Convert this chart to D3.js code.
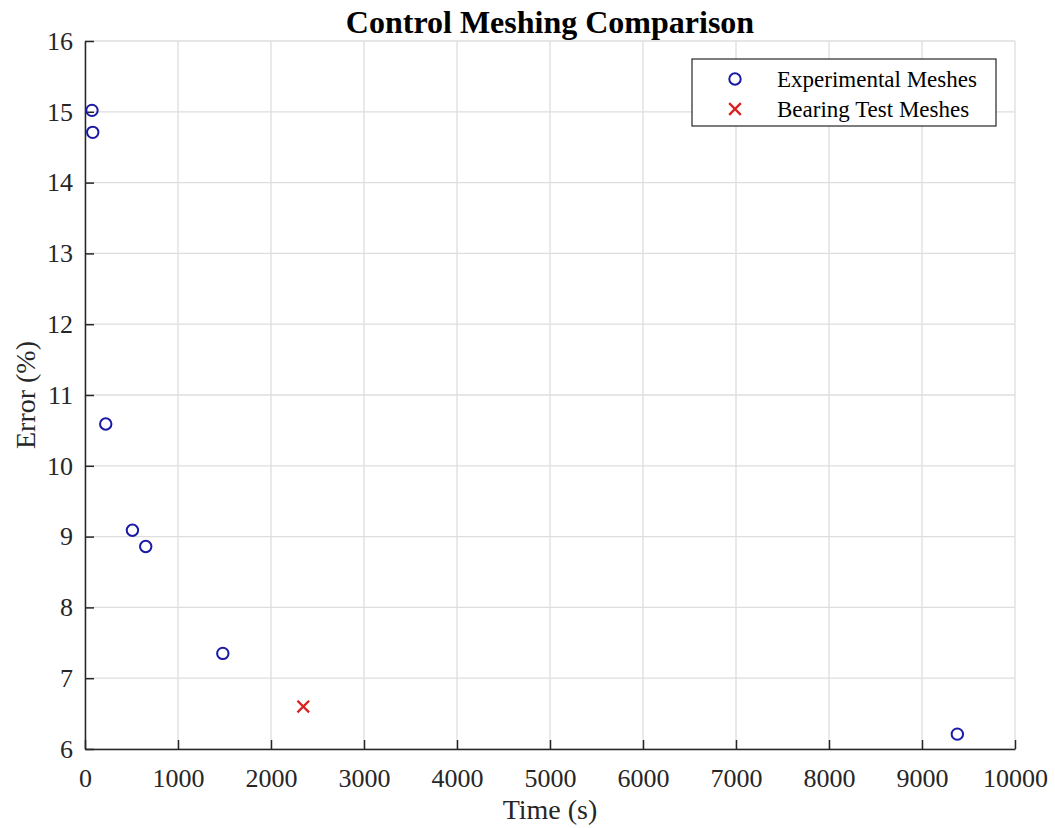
<!DOCTYPE html>
<html>
<head>
<meta charset="utf-8">
<script src="https://cdn.jsdelivr.net/npm/d3@7"></script>
<style>
  body { margin: 0; background: #fff; }
  svg text { font-family: "Liberation Serif", "Times New Roman", serif; fill: #262626; }
</style>
</head>
<body>
<div id="chart"></div>
<script>
// data
const expTime = [75, 83, 223, 510, 653, 1482, 9380];
const expError = [15.02, 14.71, 10.59, 9.09, 8.86, 7.35, 6.21];
const bearTime = [2347];
const bearError = [6.60];
const xTicks = [0, 1000, 2000, 3000, 4000, 5000, 6000, 7000, 8000, 9000, 10000];
const yTicks = [6, 7, 8, 9, 10, 11, 12, 13, 14, 15, 16];
const legendLabels = ["Experimental Meshes", "Bearing Test Meshes"];

const width = 1055, height = 828;
const margin = {left: 85, right: 40, top: 41, bottom: 79};

const svg = d3.select("#chart").append("svg").attr("width", width).attr("height", height);

const x = d3.scaleLinear().domain([0, 10000]).range([margin.left, width - margin.right]);
const y = d3.scaleLinear().domain([6, 16]).range([height - margin.bottom, margin.top]);

// grid
const grid = svg.append("g").attr("class", "grid");
grid.selectAll("line.vx").data(xTicks).enter().append("line")
    .attr("x1", d => x(d)).attr("x2", d => x(d))
    .attr("y1", y(6)).attr("y2", y(16))
    .attr("stroke", "#dedede").attr("stroke-width", 1.3);
grid.selectAll("line.hy").data(yTicks).enter().append("line")
    .attr("x1", x(0)).attr("x2", x(10000))
    .attr("y1", d => y(d)).attr("y2", d => y(d))
    .attr("stroke", "#dedede").attr("stroke-width", 1.3);

// axes (ticks point inward)
const axisX = svg.append("g").attr("transform", "translate(0," + y(6) + ")")
    .call(d3.axisBottom(x).tickValues(xTicks).tickFormat(d3.format("d")).tickSizeInner(-9).tickSizeOuter(0).tickPadding(20));
const axisY = svg.append("g").attr("transform", "translate(" + x(0) + ",0)")
    .call(d3.axisLeft(y).tickValues(yTicks).tickFormat(d3.format("d")).tickSizeInner(-9).tickSizeOuter(0).tickPadding(12));
[axisX, axisY].forEach(a => {
    a.select(".domain").attr("stroke", "#262626").attr("stroke-width", 1.5);
    a.selectAll(".tick line").attr("stroke", "#262626").attr("stroke-width", 1.5);
    a.selectAll(".tick text").attr("font-size", "26px").attr("font-family", "Liberation Serif").attr("fill", "#262626");
});

// points
svg.append("g").selectAll("circle").data(expTime).enter().append("circle")
    .attr("cx", (d, i) => x(d))
    .attr("cy", (d, i) => y(expError[i]))
    .attr("r", 5.7)
    .attr("fill", "none").attr("stroke", "#1a1aa6").attr("stroke-width", 2);

const cross = d3.symbol().type(d3.symbolX).size(90);
svg.append("g").selectAll("path").data(bearTime).enter().append("path")
    .attr("d", cross)
    .attr("transform", (d, i) => "translate(" + x(d) + "," + y(bearError[i]) + ")")
    .attr("fill", "none").attr("stroke", "#d92020").attr("stroke-width", 2.3);

// title & labels
svg.append("text").attr("x", (x(0) + x(10000)) / 2).attr("y", 33)
    .attr("text-anchor", "middle").attr("font-size", "32px").attr("font-weight", "bold")
    .style("fill", "#000").text("Control Meshing Comparison");
svg.append("text").attr("x", (x(0) + x(10000)) / 2).attr("y", 819)
    .attr("text-anchor", "middle").attr("font-size", "28px").text("Time (s)");
svg.append("text").attr("transform", "translate(35," + (y(6) + y(16)) / 2 + ") rotate(-90)")
    .attr("text-anchor", "middle").attr("font-size", "28px").text("Error (%)");

// legend
const lg = svg.append("g").attr("transform", "translate(692,59)");
lg.append("rect").attr("width", 304).attr("height", 67)
    .attr("fill", "#fff").attr("stroke", "#262626").attr("stroke-width", 1.2);
lg.append("circle").attr("cx", 43).attr("cy", 20).attr("r", 5.7)
    .attr("fill", "none").attr("stroke", "#1a1aa6").attr("stroke-width", 2);
lg.append("path").attr("d", cross).attr("transform", "translate(43,50)")
    .attr("fill", "none").attr("stroke", "#d92020").attr("stroke-width", 2.3);
lg.selectAll("text").data(legendLabels).enter().append("text")
    .attr("x", 85).attr("y", (d, i) => 20 + i * 30).attr("dy", "0.35em")
    .attr("font-size", "23px").style("fill", "#000").text(d => d);
</script>
</body>
</html>
